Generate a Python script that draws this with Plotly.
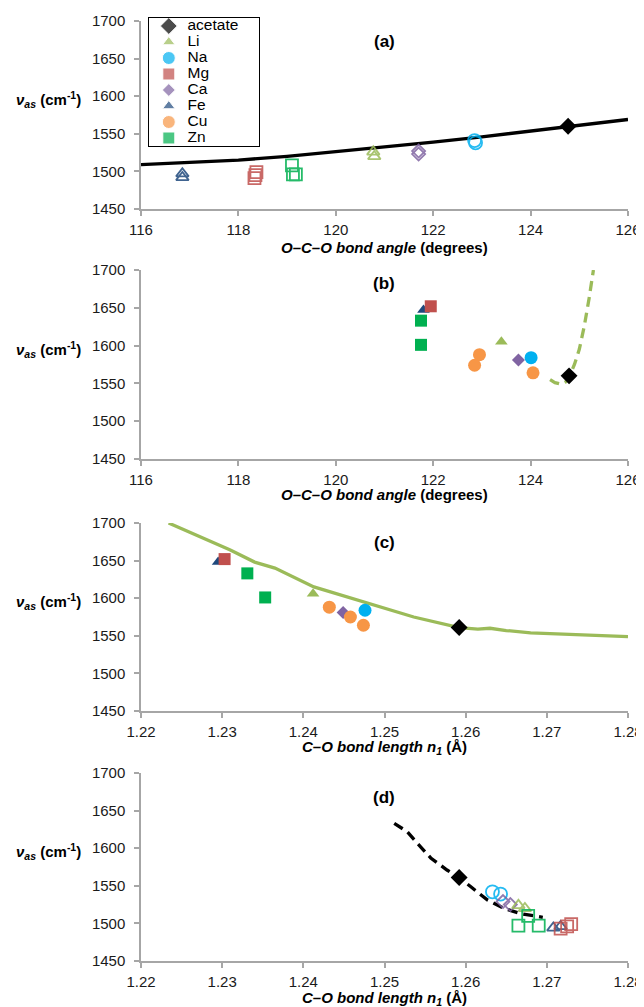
import plotly.graph_objects as go

# ---------------- data ----------------
ions = ["acetate", "Li", "Na", "Mg", "Ca", "Fe", "Cu", "Zn"]
ion_colors = ["#000000", "#9bbb59", "#00b0f0", "#c0504d", "#8064a2", "#1f497d", "#f79646", "#00b050"]
ion_symbols = ["diamond", "triangle-up", "circle", "square", "diamond", "triangle-up", "circle", "square"]
ion_sizes = [13, 11, 13, 12, 10, 11, 13, 12]

# Panel (a): O-C-O bond angle (deg) vs nu_as (open symbols)
a_fit_x = [116, 117, 118, 119, 120, 121, 122, 123, 124, 125, 126]
a_fit_y = [1509, 1511.5, 1515, 1520, 1526, 1532, 1539, 1546, 1554, 1561.5, 1569]
a_acetate_x = [124.77]; a_acetate_y = [1560]
a_li_x = [120.77, 120.79]; a_li_y = [1526, 1520]
a_na_x = [122.85, 122.87]; a_na_y = [1541, 1538]
a_mg_x = [118.33, 118.35, 118.37]; a_mg_y = [1491, 1495, 1499]
a_ca_x = [121.70, 121.70]; a_ca_y = [1527, 1523]
a_fe_x = [116.85, 116.85]; a_fe_y = [1492, 1497]
a_zn_x = [119.10, 119.12, 119.18]; a_zn_y = [1508, 1496, 1496]

# Panel (b): O-C-O bond angle (deg) vs nu_as (filled symbols)
b_fit_x = [124.40, 124.50, 124.62, 124.72, 124.80, 124.90, 125.00, 125.10, 125.20, 125.29]
b_fit_y = [1555, 1551, 1549, 1552, 1560, 1575, 1595, 1625, 1662, 1700]
b_acetate_x = [124.79]; b_acetate_y = [1560]
b_li_x = [123.40]; b_li_y = [1605]
b_na_x = [124.01]; b_na_y = [1584]
b_mg_x = [121.95]; b_mg_y = [1652]
b_ca_x = [123.75]; b_ca_y = [1581]
b_fe_x = [121.80]; b_fe_y = [1647]
b_cu_x = [122.95, 122.85, 124.05]; b_cu_y = [1588, 1574, 1564]
b_zn_x = [121.75, 121.75]; b_zn_y = [1633, 1601]

# Panel (c): C-O bond length n1 (A) vs nu_as (filled symbols)
c_fit_x = [1.2234, 1.2270, 1.2310, 1.2340, 1.2365, 1.2413, 1.2475, 1.2536, 1.2592,
           1.2615, 1.2630, 1.2650, 1.2680, 1.2720, 1.2760, 1.2800]
c_fit_y = [1700, 1683, 1664, 1648, 1640, 1615, 1595, 1575, 1561,
           1559, 1560, 1557, 1554, 1552, 1550.5, 1549]
c_acetate_x = [1.2592]; c_acetate_y = [1561]
c_li_x = [1.2412]; c_li_y = [1606]
c_na_x = [1.2476]; c_na_y = [1584]
c_mg_x = [1.2303]; c_mg_y = [1652]
c_ca_x = [1.2449]; c_ca_y = [1581]
c_fe_x = [1.2295]; c_fe_y = [1648]
c_cu_x = [1.2432, 1.2458, 1.2474]; c_cu_y = [1588, 1575, 1564]
c_zn_x = [1.2331, 1.2353]; c_zn_y = [1633, 1601]

# Panel (d): C-O bond length n1 (A) vs nu_as (open symbols)
d_fit_x = [1.2512, 1.2528, 1.2540, 1.2557, 1.2577, 1.2592, 1.2606, 1.2627, 1.2647, 1.2668, 1.2695]
d_fit_y = [1633, 1622, 1607, 1587, 1571, 1561, 1549, 1531, 1520, 1513, 1508]
d_acetate_x = [1.2592]; d_acetate_y = [1561]
d_li_x = [1.2665, 1.2673]; d_li_y = [1524, 1520]
d_na_x = [1.2633, 1.2643]; d_na_y = [1542, 1539]
d_mg_x = [1.2717, 1.2725, 1.2730]; d_mg_y = [1493, 1496, 1499]
d_ca_x = [1.2646, 1.2655]; d_ca_y = [1529, 1525]
d_fe_x = [1.2708, 1.2717]; d_fe_y = [1494, 1496]
d_zn_x = [1.2677, 1.2665, 1.2690]; d_zn_y = [1510, 1497, 1497]

angle_ticks = [116, 118, 120, 122, 124, 126]
length_ticks = [1.22, 1.23, 1.24, 1.25, 1.26, 1.27, 1.28]
nu_ticks = [1450, 1500, 1550, 1600, 1650, 1700]

# ---------------- figure ----------------
OFF = 8                    # page body margin
FW, FH = 644 - OFF, 1007 - OFF
FONT = "Liberation Sans, Arial, sans-serif"
fig = go.Figure()

def px_x(px):
    return (px - OFF) / FW

def px_y(py):
    return 1 - (py - OFF) / FH

def style(ion):
    i = ions.index(ion)
    return ion_colors[i], ion_symbols[i], ion_sizes[i]

def axn(k):
    return "" if k == 1 else str(k)

def add_points(xs, ys, ion, k, open_=False):
    col, sym, size = style(ion)
    if open_ and ion != "acetate":
        marker = dict(symbol=sym + "-open", size=size, color=col, line=dict(width=1.8, color=col))
        opacity = 0.85
    else:
        marker = dict(symbol=sym, size=size, color=col, line=dict(width=0))
        opacity = 1.0
    fig.add_trace(go.Scatter(x=xs, y=ys, mode="markers", marker=marker, opacity=opacity,
                             showlegend=False, hoverinfo="skip",
                             xaxis="x" + axn(k), yaxis="y" + axn(k)))

def add_line(xs, ys, k, color, dash):
    fig.add_trace(go.Scatter(x=xs, y=ys, mode="lines", line=dict(color=color, width=3.3, dash=dash),
                             showlegend=False, hoverinfo="skip",
                             xaxis="x" + axn(k), yaxis="y" + axn(k)))

# (a)
add_line(a_fit_x, a_fit_y, 1, "#000000", "solid")
for ion, xs, ys in [("Fe", a_fe_x, a_fe_y), ("Mg", a_mg_x, a_mg_y), ("Zn", a_zn_x, a_zn_y),
                    ("Li", a_li_x, a_li_y), ("Ca", a_ca_x, a_ca_y), ("Na", a_na_x, a_na_y)]:
    add_points(xs, ys, ion, 1, open_=True)
add_points(a_acetate_x, a_acetate_y, "acetate", 1)

# (b)
add_line(b_fit_x, b_fit_y, 2, "#9bbb59", "10px,6px")
for ion, xs, ys in [("Fe", b_fe_x, b_fe_y), ("Mg", b_mg_x, b_mg_y), ("Zn", b_zn_x, b_zn_y),
                    ("Li", b_li_x, b_li_y), ("Cu", b_cu_x, b_cu_y), ("Ca", b_ca_x, b_ca_y),
                    ("Na", b_na_x, b_na_y), ("acetate", b_acetate_x, b_acetate_y)]:
    add_points(xs, ys, ion, 2)

# (c)
add_line(c_fit_x, c_fit_y, 3, "#9bbb59", "solid")
for ion, xs, ys in [("Fe", c_fe_x, c_fe_y), ("Mg", c_mg_x, c_mg_y), ("Zn", c_zn_x, c_zn_y),
                    ("Li", c_li_x, c_li_y), ("Ca", c_ca_x, c_ca_y), ("Cu", c_cu_x, c_cu_y),
                    ("Na", c_na_x, c_na_y), ("acetate", c_acetate_x, c_acetate_y)]:
    add_points(xs, ys, ion, 3)

# (d)
add_line(d_fit_x, d_fit_y, 4, "#000000", "10px,6px")
for ion, xs, ys in [("Na", d_na_x, d_na_y), ("Ca", d_ca_x, d_ca_y), ("Li", d_li_x, d_li_y),
                    ("Zn", d_zn_x, d_zn_y), ("Fe", d_fe_x, d_fe_y), ("Mg", d_mg_x, d_mg_y)]:
    add_points(xs, ys, ion, 4, open_=True)
add_points(d_acetate_x, d_acetate_y, "acetate", 4)

# legend (custom, on its own hidden axis, one row per ion)
rows = list(range(len(ions)))
fig.add_trace(go.Scatter(x=[0.18] * len(ions), y=rows, mode="markers",
                         marker=dict(symbol=ion_symbols, color=ion_colors, size=ion_sizes),
                         showlegend=False, hoverinfo="skip", xaxis="x5", yaxis="y5"))
fig.add_trace(go.Scatter(x=[0.35] * len(ions), y=rows, mode="text", text=ions,
                         textposition="middle right",
                         textfont=dict(family=FONT, size=15.5, color="#000000"),
                         showlegend=False, hoverinfo="skip", xaxis="x5", yaxis="y5"))

# ---------------- layout ----------------
xdom = [px_x(141), px_x(628)]
panels = [(21, 209), (270, 459), (523, 711), (773, 961)]

axis_line = dict(showline=True, linecolor="#a6a6a6", linewidth=1.5, ticks="outside",
                 ticklen=5, tickwidth=1.5, tickcolor="#a6a6a6", showgrid=False, zeroline=False,
                 tickfont=dict(family=FONT, size=15, color="#1a1a1a"), fixedrange=True,
                 automargin=False)

layout = dict(width=FW, height=FH, margin=dict(l=0, r=0, t=0, b=0, pad=0, autoexpand=False),
              paper_bgcolor="white", plot_bgcolor="white", showlegend=False)

for k, (top, bot) in enumerate(panels, start=1):
    if k <= 2:
        xa = dict(range=[116, 126], tickvals=angle_ticks, ticktext=[str(t) for t in angle_ticks])
    else:
        xa = dict(range=[1.22, 1.28], tickvals=length_ticks, ticktext=["%.2f" % t for t in length_ticks])
    layout["xaxis" + axn(k)] = dict(domain=xdom, anchor="y" + axn(k), ticklabelstandoff=1, **xa, **axis_line)
    layout["yaxis" + axn(k)] = dict(domain=[px_y(bot), px_y(top)], anchor="x" + axn(k), range=[1450, 1700],
                                    tickvals=nu_ticks, ticklabelstandoff=6, **axis_line)

layout["xaxis5"] = dict(domain=[px_x(149), px_x(259)], anchor="y5", range=[0, 1], showline=True, mirror=True,
                        linecolor="#000000", linewidth=1.2, showticklabels=False, ticks="",
                        showgrid=False, zeroline=False, fixedrange=True, automargin=False)
layout["yaxis5"] = dict(domain=[px_y(146), px_y(18)], anchor="x5", range=[7.5, -0.5], showline=True,
                        mirror=True, linecolor="#000000", linewidth=1.2, showticklabels=False, ticks="",
                        showgrid=False, zeroline=False, fixedrange=True, automargin=False)

fig.update_layout(**layout)

# annotations
ytitle = "<b><i>ν</i><sub><i>as</i></sub> (cm<sup>-1</sup>)</b>"
xt_angle = "<b><i>O–C–O bond angle</i> (degrees)</b>"
xt_length = "<b><i>C–O bond length n</i><sub><i>1</i></sub> (Å)</b>"
letters = ["(a)", "(b)", "(c)", "(d)"]
letter_px = [41, 283, 542, 797]
xtitle_px = [247, 494, 747, 998]
anns = []
for k, (top, bot) in enumerate(panels, start=1):
    anns.append(dict(xref="paper", yref="y" + axn(k), x=px_x(83), y=1595, xanchor="right", yanchor="middle",
                     text=ytitle, showarrow=False, font=dict(family=FONT, size=15, color="#000000")))
    anns.append(dict(xref="paper", yref="paper", x=px_x(384), y=px_y(letter_px[k - 1]),
                     xanchor="center", yanchor="middle", text="<b>" + letters[k - 1] + "</b>",
                     showarrow=False, font=dict(family=FONT, size=17, color="#000000")))
    anns.append(dict(xref="paper", yref="paper", x=px_x(384.5), y=px_y(xtitle_px[k - 1]),
                     xanchor="center", yanchor="middle", text=xt_angle if k <= 2 else xt_length,
                     showarrow=False, font=dict(family=FONT, size=15, color="#000000")))
fig.update_layout(annotations=anns)

fig.write_html("out.html")
